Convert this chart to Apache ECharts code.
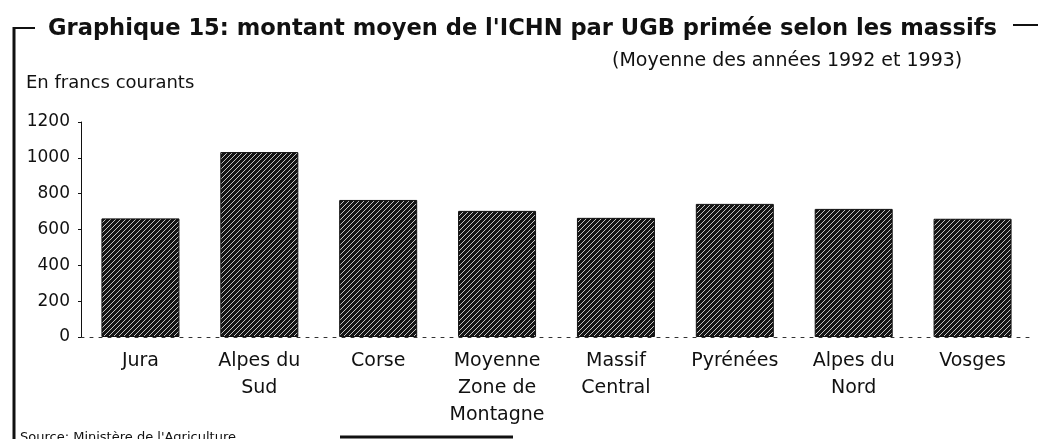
<!DOCTYPE html>
<html>
<head>
<meta charset="utf-8">
<script src="https://cdn.jsdelivr.net/npm/echarts@6/dist/echarts.min.js"></script>
<style>
  html, body { margin: 0; padding: 0; background: #fff; }
  #chart { width: 1040px; height: 439px; }
</style>
</head>
<body>
<div id="chart"></div>
<script>
// données
const massifs = ['Jura', 'Alpes du\nSud', 'Corse', 'Moyenne\nZone de\nMontagne', 'Massif\nCentral', 'Pyrénées', 'Alpes du\nNord', 'Vosges']
const montants = [662, 1032, 765, 704, 665, 743, 715, 660]
const yTicks = [0, 200, 400, 600, 800, 1000, 1200]

// hachures sombres des barres
const makeHatch = () => {
  const s = 5
  const c = document.createElement('canvas')
  c.width = s
  c.height = s
  const ctx = c.getContext('2d')
  ctx.fillStyle = '#151515'
  ctx.fillRect(0, 0, s, s)
  ctx.strokeStyle = '#d8d8d8'
  ctx.lineWidth = 0.9
  for (let k = -s; k <= s; k += s) {
    ctx.beginPath()
    ctx.moveTo(k, s)
    ctx.lineTo(k + s, 0)
    ctx.stroke()
  }
  return c
}

const chart = echarts.init(document.getElementById('chart'))
const font = 'DejaVu Sans, sans-serif'

chart.setOption({
  animation: false,
  textStyle: { fontFamily: font },
  title: {
    text: "Graphique 15: montant moyen de l'ICHN par UGB primée selon les massifs",
    left: 43,
    top: 13,
    textStyle: { fontSize: 22.6, fontWeight: 'bold', color: '#111', fontFamily: font }
  },
  graphic: [
    { type: 'line', shape: { x1: 14, y1: 27, x2: 14, y2: 439 }, style: { stroke: '#111', lineWidth: 3 } },
    { type: 'line', shape: { x1: 13, y1: 28, x2: 35, y2: 28 }, style: { stroke: '#111', lineWidth: 2 } },
    { type: 'line', shape: { x1: 1013, y1: 25, x2: 1038, y2: 25 }, style: { stroke: '#111', lineWidth: 2 } },
    { type: 'text', left: 26, top: 74, style: { text: 'En francs courants', fontSize: 18, fill: '#111', fontFamily: font } },
    { type: 'text', left: 612, top: 52, style: { text: '(Moyenne des années 1992 et 1993)', fontSize: 19, fill: '#111', fontFamily: font } },
    { type: 'text', left: 20, top: 431, style: { text: "Source: Ministère de l'Agriculture", fontSize: 13, fill: '#111', fontFamily: font } },
    { type: 'line', shape: { x1: 340, y1: 437, x2: 513, y2: 437 }, style: { stroke: '#111', lineWidth: 3 } }
  ],
  grid: { left: 81, right: 8, top: 122, bottom: 102, containLabel: false },
  xAxis: {
    type: 'category',
    data: massifs,
    axisLine: { lineStyle: { color: '#333', type: [3, 6], width: 1 } },
    axisTick: { show: false },
    axisLabel: { color: '#111', fontSize: 19, lineHeight: 27, margin: 11, interval: 0 }
  },
  yAxis: {
    type: 'value',
    min: yTicks[0],
    max: yTicks[yTicks.length - 1],
    interval: 200,
    axisLine: { show: true, lineStyle: { color: '#111', width: 1 } },
    axisTick: { show: true, length: 3, lineStyle: { color: '#111' } },
    axisLabel: { color: '#111', fontSize: 17, margin: 11, formatter: v => String(v) },
    splitLine: { show: false }
  },
  series: [{
    type: 'bar',
    data: montants,
    barWidth: 78,
    itemStyle: {
      color: { image: makeHatch(), repeat: 'repeat' },
      borderColor: '#111',
      borderWidth: 1
    }
  }]
})
</script>
</body>
</html>
